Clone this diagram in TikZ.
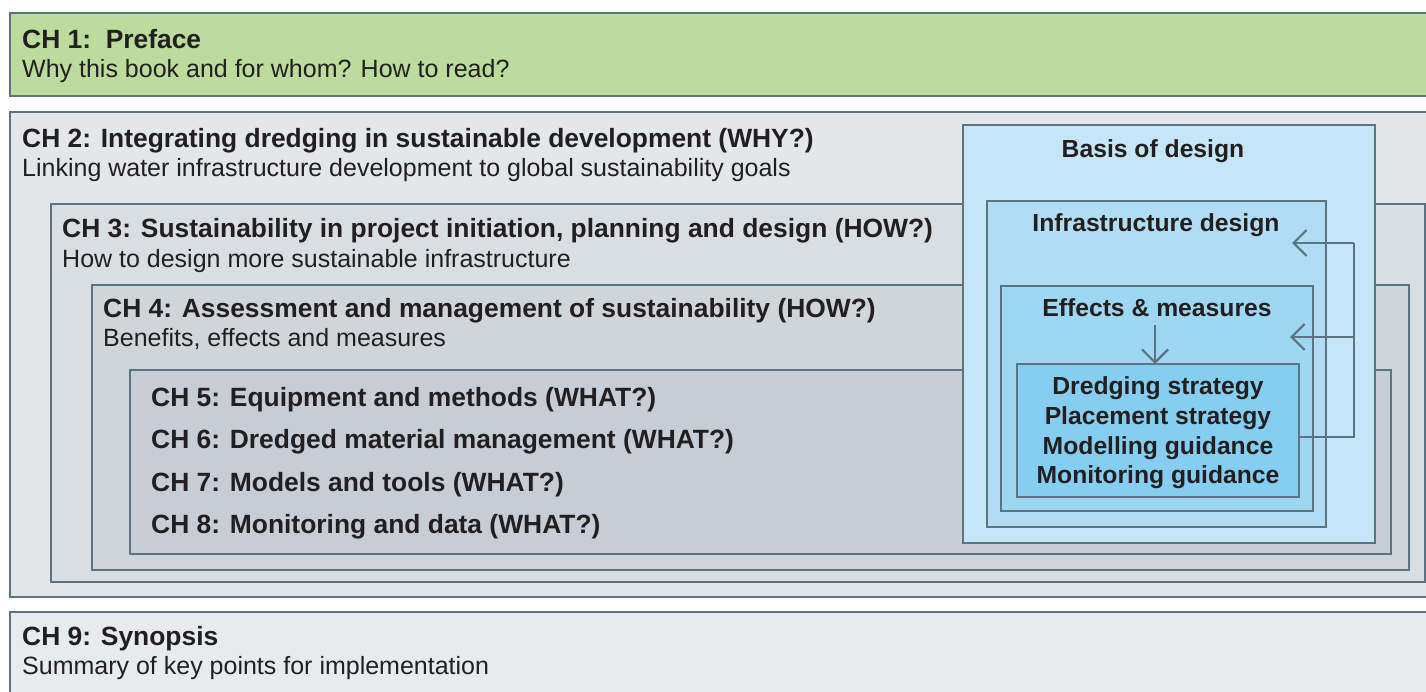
\documentclass[tikz,border=0pt]{standalone}
\usepackage{fontspec}
\setmainfont{Liberation Sans}
\usetikzlibrary{arrows.meta}
\definecolor{edge}{HTML}{5E7381}
\definecolor{txt}{HTML}{231F20}
\definecolor{chone}{HTML}{BCDB9C}
\definecolor{chtwo}{HTML}{E3E7EA}
\definecolor{chthree}{HTML}{D9DEE2}
\definecolor{chfour}{HTML}{D0D5DA}
\definecolor{chfive}{HTML}{C6CDD4}
\definecolor{chnine}{HTML}{E8EBEE}
\definecolor{bod}{HTML}{C5E6F7}
\definecolor{infra}{HTML}{B1DDF4}
\definecolor{effm}{HTML}{9ED7F2}
\definecolor{strat}{HTML}{86CEF1}
\tikzset{
  chbox/.style={draw=edge, line width=1.5pt, anchor=north west, inner sep=0pt, outer sep=0pt},
  panel/.style={draw=edge, line width=2.4pt, anchor=north west, inner sep=0pt, outer sep=0pt},
  title/.style={anchor=base west, inner sep=0pt, text=txt, font=\fontsize{26.4}{30}\selectfont\bfseries},
  sub/.style={anchor=base west, inner sep=0pt, text=txt, font=\fontsize{25}{29}\selectfont},
  ptitle/.style={anchor=base, inner sep=0pt, text=txt, font=\fontsize{24.7}{29}\selectfont\bfseries},
  fb/.style={draw=edge, line width=2.2pt, -{Straight Barb[length=13pt, width=26pt, line width=2.2pt]}},
}
\begin{document}
\begin{tikzpicture}[x=1pt, y=-1pt]
\useasboundingbox (0,0) rectangle (1426,691);
% chapter boxes
\node[chbox, fill=chone, minimum width=1430pt, minimum height=83pt] (ch1) at (10,13) {};
\node[chbox, fill=chtwo, minimum width=1430pt, minimum height=485pt] (ch2) at (10,112) {};
\node[chbox, fill=chthree, minimum width=1374pt, minimum height=378pt] (ch3) at (51,204) {};
\node[chbox, fill=chfour, minimum width=1317pt, minimum height=285pt] (ch4) at (92,285) {};
\node[chbox, fill=chfive, minimum width=1261pt, minimum height=184pt] (ch5) at (130,370) {};
\node[chbox, fill=chnine, minimum width=1430pt, minimum height=100pt] (ch9) at (10,612) {};
% texts
\node[title] (t1) at (22,48) {CH 1:\ \ Preface};
\node[sub] (s1) at (22,77) {Why this book and for whom? How to read?};
\node[title] (t2) at (22,147) {CH 2: Integrating dredging in sustainable development (WHY?)};
\node[sub] (s2) at (22,176) {Linking water infrastructure development to global sustainability goals};
\node[title] (t3) at (62,237) {CH 3: Sustainability in project initiation, planning and design (HOW?)};
\node[sub] (s3) at (62,267) {How to design more sustainable infrastructure};
\node[title] (t4) at (103,317) {CH 4: Assessment and management of sustainability (HOW?)};
\node[sub] (s4) at (103,346) {Benefits, effects and measures};
\node[title] (t5) at (151,406) {CH 5: Equipment and methods (WHAT?)};
\node[title] (t6) at (151,448) {CH 6: Dredged material management (WHAT?)};
\node[title] (t7) at (151,491) {CH 7: Models and tools (WHAT?)};
\node[title] (t8) at (151,533) {CH 8: Monitoring and data (WHAT?)};
\node[title] (t9) at (22,645) {CH 9: Synopsis};
\node[sub] (s9) at (22,674) {Summary of key points for implementation};
% right panel
\node[panel, fill=bod, minimum width=412pt, minimum height=418pt] (bod) at (963,125) {};
\node[panel, fill=infra, minimum width=339pt, minimum height=326pt] (inf) at (987,201) {};
\node[panel, fill=effm, minimum width=312pt, minimum height=225pt] (eff) at (1001,286) {};
\node[panel, fill=strat, minimum width=282pt, minimum height=133pt] (str) at (1017,364) {};
\node[ptitle] (pb) at (1153,157) {Basis of design};
\node[ptitle] (pi) at (1156,231) {Infrastructure design};
\node[ptitle] (pe) at (1157,316) {Effects \& measures};
\node[ptitle] (l1) at (1158,394) {Dredging strategy};
\node[ptitle] (l2) at (1158,424) {Placement strategy};
\node[ptitle] (l3) at (1158,454) {Modelling guidance};
\node[ptitle] (l4) at (1158,483) {Monitoring guidance};
% connectors
\coordinate (fbr) at (1354,437);
\coordinate (fbt) at (1354,243);
\coordinate (fbm) at (1354,337);
\coordinate (tipi) at (1292,243);
\coordinate (tipe) at (1290,337);
\coordinate (dtop) at (1155,325);
\draw[edge, line width=2.2pt] (str.east |- fbr) -- (fbr) -- (fbt);
\draw[fb] (fbt) -- (tipi);
\draw[fb] (fbm) -- (tipe);
\draw[fb] (dtop) -- (dtop |- str.north);
\end{tikzpicture}
\end{document}
